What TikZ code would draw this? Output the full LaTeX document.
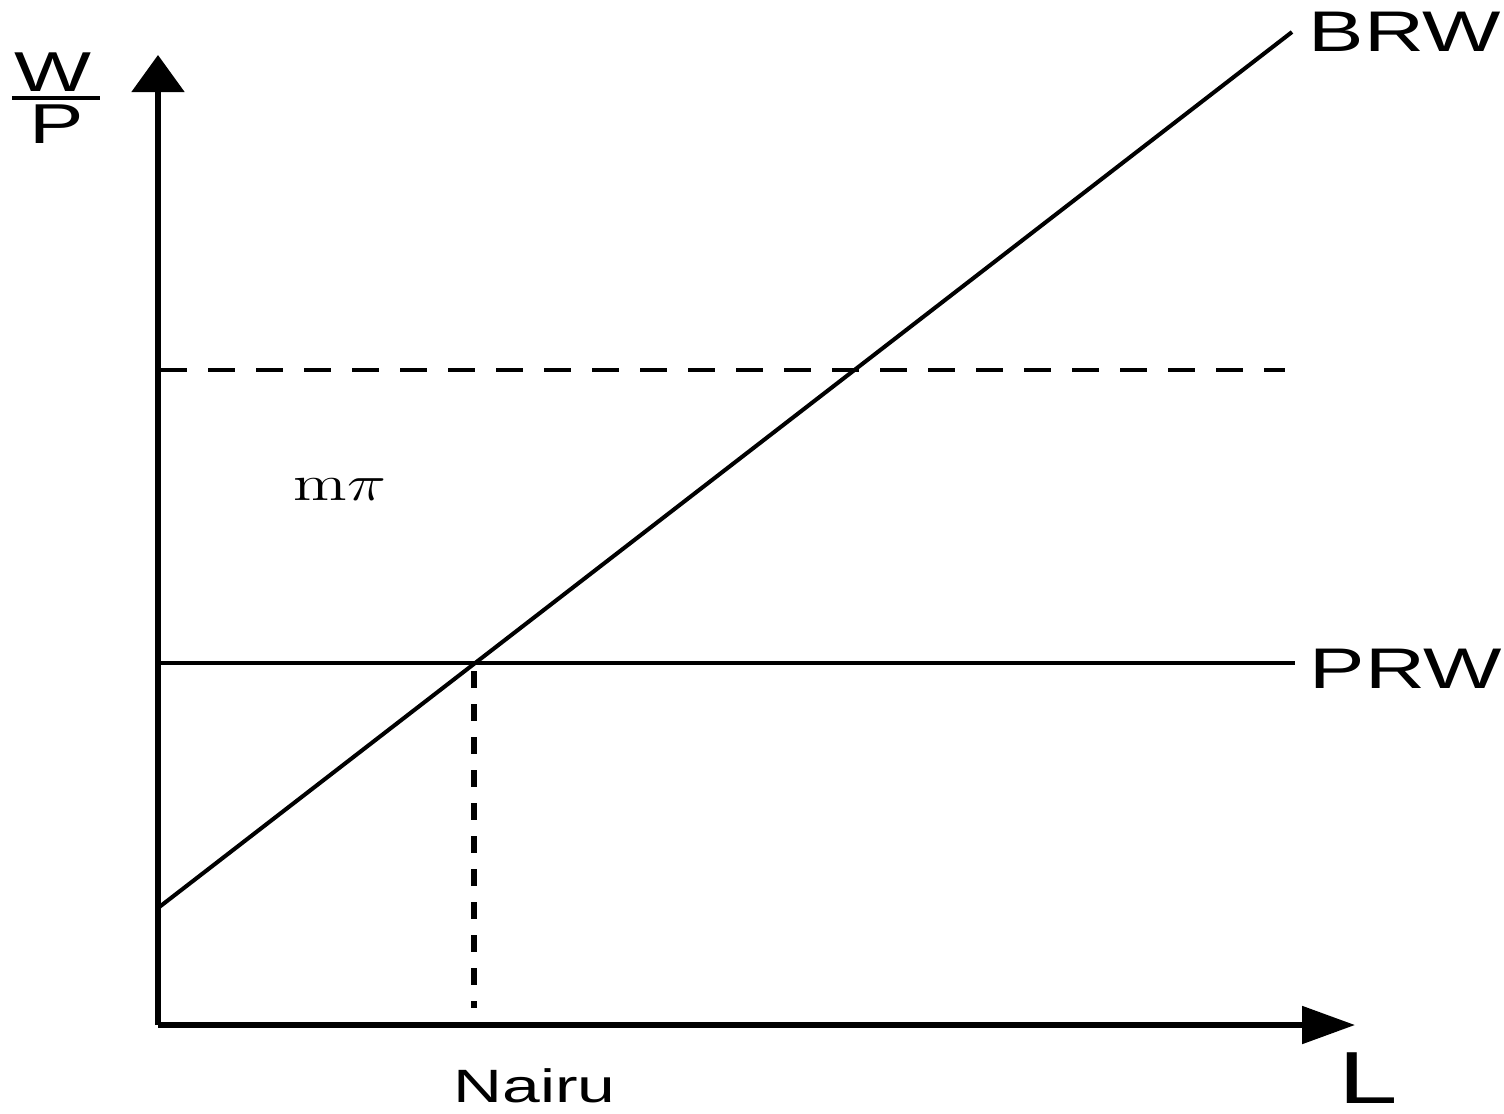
\documentclass[tikz,border=0pt]{standalone}
\usepackage[no-math]{fontspec}
\setmainfont{Liberation Sans}
\usepackage{graphicx}
\usetikzlibrary{arrows.meta}
\newcommand{\wide}[1]{\scalebox{1.45}[1]{#1}}
\begin{document}
\begin{tikzpicture}[
  axis/.style={line width=1.5pt},
  curve/.style={line width=1.15pt},
  guide/.style={line width=1pt,dash pattern=on 0.27cm off 0.21cm},
  drop/.style={line width=1.5pt,dash pattern=on 0.17cm off 0.16cm},
  lbl/.style={inner sep=0pt,anchor=base west}]
\useasboundingbox (0,0) rectangle (15.04,11.13);
\coordinate (O) at (1.58,0.88);
\coordinate (ytop) at (1.58,10.58);
\coordinate (xend) at (13.55,0.88);
\coordinate (brw0) at (1.58,2.05);
\coordinate (brw1) at (12.92,10.81);
\coordinate (prw0) at (1.58,4.50);
\coordinate (prw1) at (12.95,4.50);
\coordinate (eq) at (4.74,4.50);
\coordinate (eqfoot) at (4.74,1.05);
\coordinate (mp0) at (1.60,7.43);
\coordinate (mp1) at (12.85,7.43);
\coordinate (bar0) at (0.12,10.15);
\coordinate (bar1) at (1.00,10.15);
\draw[axis,-{Triangle[length=0.37cm,width=0.52cm]}] (O) -- (ytop);
\draw[axis,-{Triangle[length=0.53cm,width=0.37cm]}] (O) -- (xend);
\draw[curve] (brw0) -- (brw1);
\draw[curve] (prw0) -- (prw1);
\draw[guide] (mp0) -- (mp1);
\draw[drop] ([yshift=-0.08cm]eq) -- (eqfoot);
\draw[line width=1.2pt] (bar0) -- (bar1);
\node[lbl] (brw) at (13.08,10.61) {\fontsize{16.3}{16}\selectfont\wide{BRW}};
\node[lbl] (prw) at (13.09,4.25) {\fontsize{16.3}{16}\selectfont\wide{PRW}};
\node[lbl] (L) at (13.38,0.10) {\fontsize{21}{21}\selectfont\wide{L}};
\node[lbl] (nairu) at (4.53,0.11) {\fontsize{13.3}{13}\selectfont\wide{Nairu}};
\node[lbl] (mpi) at (2.93,6.13) {\fontsize{15.5}{15}\selectfont\scalebox{1.3}[1]{$\mathrm{m}\pi$}};
\node[lbl] (W) at (0.14,10.22) {\fontsize{16}{16}\selectfont\wide{W}};
\node[lbl] (P) at (0.29,9.70) {\fontsize{16}{16}\selectfont\wide{P}};
\end{tikzpicture}
\end{document}
